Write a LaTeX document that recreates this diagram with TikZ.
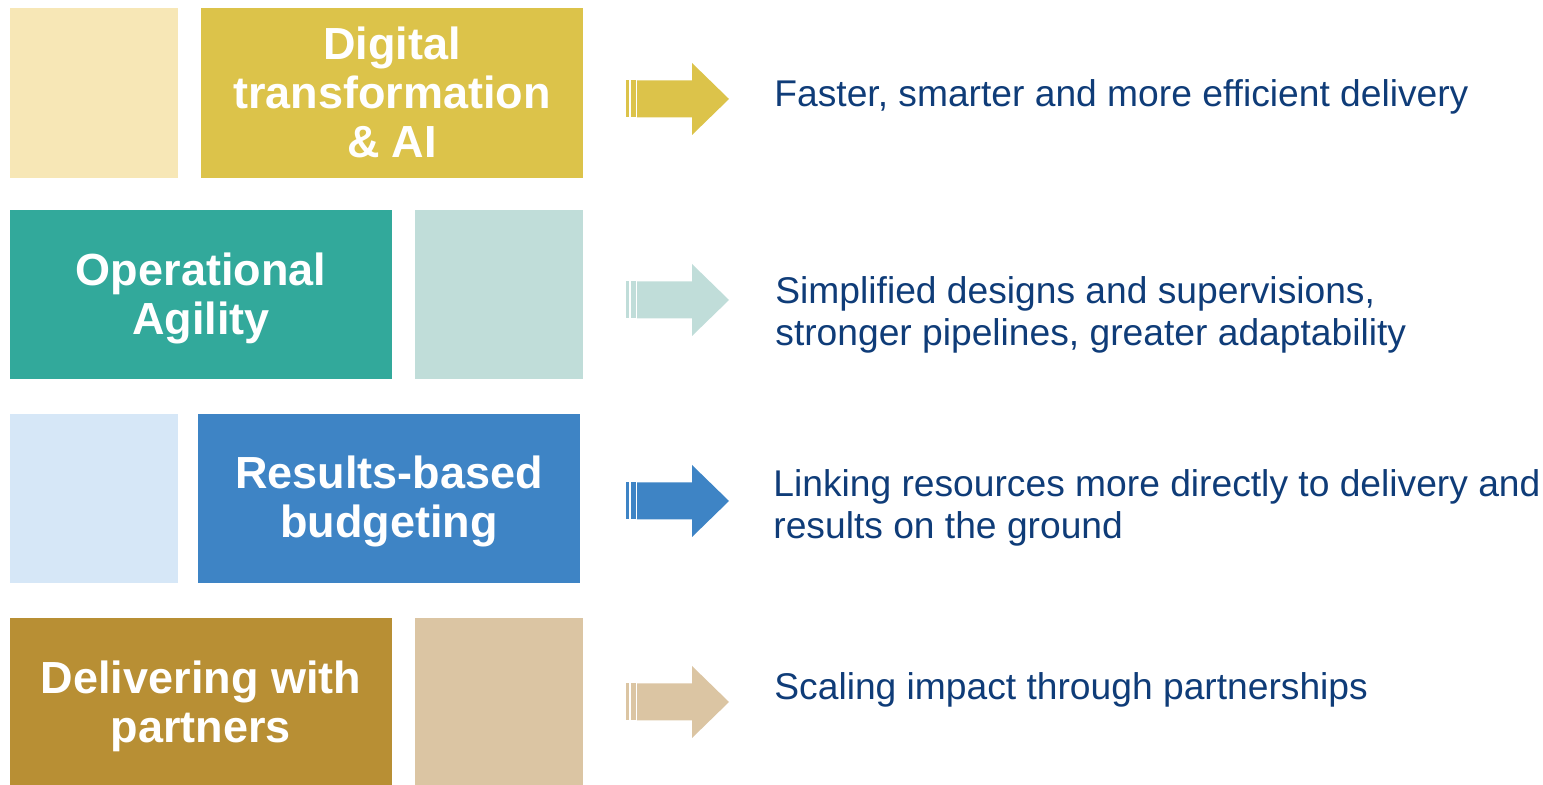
\documentclass[tikz,border=0pt]{standalone}
\usepackage{fontspec}
\setmainfont{Liberation Sans}
\definecolor{goldD}{HTML}{DCC34A}
\definecolor{goldL}{HTML}{F7E7B6}
\definecolor{tealD}{HTML}{32A99B}
\definecolor{tealL}{HTML}{C0DDD9}
\definecolor{blueD}{HTML}{3E84C5}
\definecolor{blueL}{HTML}{D6E7F7}
\definecolor{brownD}{HTML}{B88F34}
\definecolor{brownL}{HTML}{DBC5A3}
\definecolor{navy}{HTML}{0F3C78}
\tikzset{
  boxtext/.style={text=white, align=center, font=\fontsize{22.5}{24.5}\selectfont\bfseries, inner sep=0pt},
  desctext/.style={text=navy, align=left, anchor=west, font=\fontsize{18.6}{20.8}\selectfont, inner sep=0pt},
  pics/rowarrow/.style={code={
    \fill (0,-18.5) rectangle (2.5,18.5);
    \fill (4.5,-18.5) rectangle (9.5,18.5);
    \fill (11,-18.5) -- (66,-18.5) -- (66,-36) -- (103,0) -- (66,36) -- (66,18.5) -- (11,18.5) -- cycle;
  }}
}
\begin{document}
\begin{tikzpicture}[x=0.5pt,y=-0.5pt]
\useasboundingbox (0,0) rectangle (1543,785);
% row 1
\fill[goldL] (10,8) rectangle (178,178);
\fill[goldD] (201,8) rectangle (583,178);
\node[boxtext] (b1) at (392,92) {Digital\\transformation\\\& AI};
\pic[goldD] at (626,99) {rowarrow};
\node[desctext] (t1) at (774,97) {Faster, smarter and more efficient delivery};
% row 2
\fill[tealD] (10,210) rectangle (392,379);
\fill[tealL] (415,210) rectangle (583,379);
\node[boxtext] (b2) at (201,298) {Operational\\Agility};
\pic[tealL] at (626,300) {rowarrow};
\node[desctext] (t2) at (775,315) {Simplified designs and supervisions,\\stronger pipelines, greater adaptability};
% row 3
\fill[blueL] (10,414) rectangle (178,583);
\fill[blueD] (198,414) rectangle (580,583);
\node[boxtext] (b3) at (389,501) {Results-based\\budgeting};
\pic[blueD] at (626,501) {rowarrow};
\node[desctext] (t3) at (773,508) {Linking resources more directly to delivery and\\results on the ground};
% row 4
\fill[brownD] (10,618) rectangle (392,785);
\fill[brownL] (415,618) rectangle (583,785);
\node[boxtext] (b4) at (201,706) {Delivering with\\partners};
\pic[brownL] at (626,702) {rowarrow};
\node[desctext] (t4) at (774,690) {Scaling impact through partnerships};
\end{tikzpicture}
\end{document}
